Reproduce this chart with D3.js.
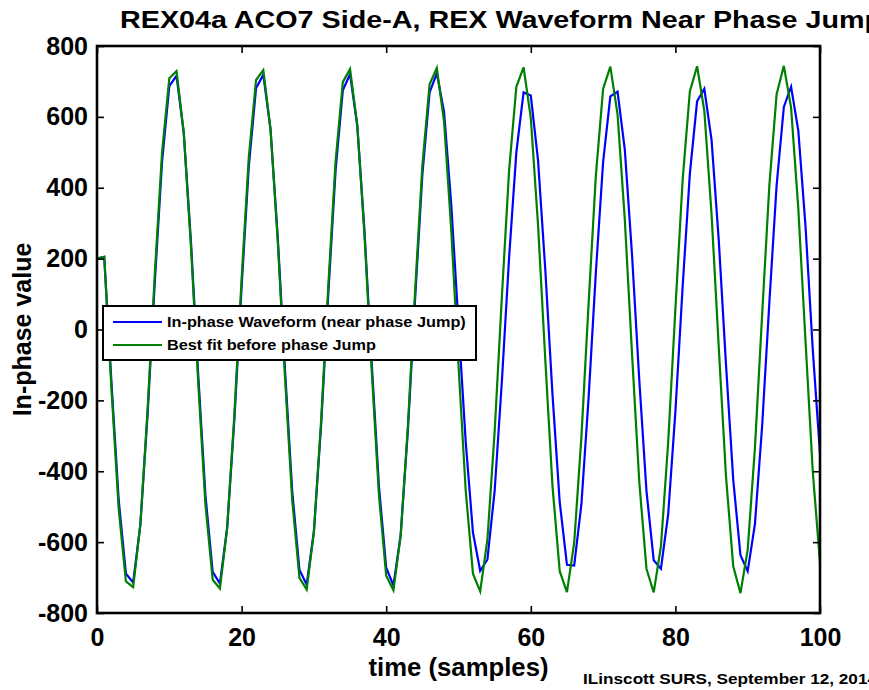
<!DOCTYPE html>
<meta charset="utf-8">
<style>
body { margin: 0; background: #fff; }
svg { display: block; font-family: "Liberation Sans", Arial, sans-serif; font-weight: bold; }
.axis .domain { display: none; }
</style>
<svg width="869" height="690"></svg>
<script src="https://d3js.org/d3.v7.min.js"></script>
<script>

// in-phase waveform (blue), samples 0..100
var waveform = [200, 205, -150, -481, -689, -714, -550, -238, 136, 474,
  687, 716, 555, 246, -128, -468, -684, -717, -560, -254,
  120, 462, 681, 719, 565, 261, -112, -456, -678, -720,
  -570, -269, 104, 449, 675, 721, 575, 277, -96, -443,
  -672, -722, -580, -284, 88, 436, 669, 723, 615, 352,
  15, -318, -573, -681, -649, -455, -146, 204, 500, 669,
  660, 478, 170, -183, -487, -664, -666, -493, -191, 162,
  472, 658, 671, 508, 211, -141, -456, -651, -675, -522,
  -231, 120, 440, 644, 679, 535, 251, -99, -424, -637,
  -682, -549, -271, 78, 407, 628, 685, 561, 290, -57,
  -350];

// best fit before the jump (green)
var bestFit = [200, 205, -167, -506, -711, -727, -549, -226, 158, 500,
  709, 729, 555, 233, -150, -494, -706, -731, -561, -241,
  142, 487, 704, 732, 566, 249, -134, -481, -701, -734,
  -571, -257, 126, 475, 698, 735, 577, 265, -117, -468,
  -695, -736, -582, -273, 109, 462, 692, 738, 587, 280,
  -101, -455, -689, -739, -592, -288, 93, 449, 685, 740,
  597, 296, -84, -442, -682, -741, -602, -303, 76, 435,
  679, 742, 607, 311, -68, -429, -675, -742, -612, -319,
  59, 422, 672, 743, 617, 326, -51, -415, -668, -744,
  -621, -334, 43, 408, 664, 744, 626, 341, -34, -401,
  -658];

var xTicks = [0, 20, 40, 60, 80, 100];
var yTicks = [-800, -600, -400, -200, 0, 200, 400, 600, 800];

var series = [
  {name: "In-phase Waveform (near phase Jump)", values: waveform, color: "#0000ff"},
  {name: "Best fit before phase Jump", values: bestFit, color: "#008000"}
];

var svg = d3.select("svg"),
    margin = {top: 46, right: 49, bottom: 77, left: 97},
    width = +svg.attr("width") - margin.left - margin.right,
    height = +svg.attr("height") - margin.top - margin.bottom,
    g = svg.append("g").attr("transform", "translate(" + margin.left + "," + margin.top + ")");

var x = d3.scaleLinear().domain([0, 100]).range([0, width]);
var y = d3.scaleLinear().domain([-800, 800]).range([height, 0]);

var line = d3.line()
    .x(function(d, i) { return x(i); })
    .y(function(d) { return y(d); });

// stretch a text to a given pixel width (the reference glyphs are wide)
function fitWidth(sel, w) {
  sel.attr("textLength", w).attr("lengthAdjust", "spacingAndGlyphs");
}
function widen(sel, f) {
  sel.each(function() {
    var w = this.getComputedTextLength();
    d3.select(this).attr("textLength", w * f).attr("lengthAdjust", "spacingAndGlyphs");
  });
}
var plain = function(d) { return String(d); };

// curves
g.append("g").selectAll("path")
  .data(series)
  .enter().append("path")
    .attr("fill", "none")
    .attr("stroke", function(d) { return d.color; })
    .attr("stroke-width", 2.2)
    .attr("d", function(d) { return line(d.values); });

// axes: ticks pointing inward on all four sides
g.append("g")
    .attr("class", "axis")
    .attr("transform", "translate(0," + height + ")")
    .call(d3.axisBottom(x).tickValues(xTicks).tickFormat(plain).tickSizeInner(-7).tickSizeOuter(0).tickPadding(15))
    .call(function(a) {
      a.selectAll("line").attr("stroke-width", 1.6);
      a.selectAll("text").attr("font-size", 25).attr("font-weight", "bold").attr("fill", "#000");
    });

g.append("g")
    .attr("class", "axis")
    .call(d3.axisTop(x).tickValues(xTicks).tickSizeInner(-7).tickSizeOuter(0).tickFormat(""))
    .selectAll("line").attr("stroke-width", 1.6);

g.append("g")
    .attr("class", "axis")
    .call(d3.axisLeft(y).tickValues(yTicks).tickFormat(plain).tickSizeInner(-7).tickSizeOuter(0).tickPadding(9))
    .call(function(a) {
      a.selectAll("line").attr("stroke-width", 1.6);
      a.selectAll("text").attr("font-size", 25).attr("font-weight", "bold").attr("fill", "#000");
    });

g.append("g")
    .attr("class", "axis")
    .attr("transform", "translate(" + width + ",0)")
    .call(d3.axisRight(y).tickValues(yTicks).tickSizeInner(-7).tickSizeOuter(0).tickFormat(""))
    .selectAll("line").attr("stroke-width", 1.6);

// plot box
g.append("rect")
    .attr("width", width)
    .attr("height", height)
    .attr("fill", "none")
    .attr("stroke", "#000")
    .attr("stroke-width", 2.6);

// labels
svg.append("text")
    .attr("x", 120)
    .attr("y", 28)
    .attr("font-size", 24)
    .call(fitWidth, 762)
    .text("REX04a ACO7 Side-A, REX Waveform Near Phase Jump");

svg.append("text")
    .attr("x", margin.left + width / 2)
    .attr("y", 676)
    .attr("text-anchor", "middle")
    .attr("font-size", 25)
    .call(fitWidth, 180)
    .text("time (samples)");

svg.append("text")
    .attr("transform", "translate(31," + (margin.top + height / 2) + ") rotate(-90)")
    .attr("text-anchor", "middle")
    .attr("font-size", 25)
    .text("In-phase value");

svg.append("text")
    .attr("x", 583)
    .attr("y", 684)
    .attr("font-size", 15.5)
    .call(fitWidth, 294)
    .text("ILinscott SURS, September 12, 2014");

// legend
var legend = svg.append("g").attr("transform", "translate(103,306)");

legend.append("rect")
    .attr("width", 373)
    .attr("height", 54)
    .attr("fill", "#fff")
    .attr("stroke", "#000")
    .attr("stroke-width", 2);

var item = legend.selectAll("g.item")
  .data(series)
  .enter().append("g")
    .attr("class", "item")
    .attr("transform", function(d, i) { return "translate(0," + (16 + i * 23) + ")"; });

item.append("line")
    .attr("x1", 10)
    .attr("x2", 59)
    .attr("stroke", function(d) { return d.color; })
    .attr("stroke-width", 2);

item.append("text")
    .attr("x", 64)
    .attr("dy", "0.35em")
    .attr("font-size", 15.5)
    .text(function(d) { return d.name; })
    .call(widen, 1.05);

</script>
